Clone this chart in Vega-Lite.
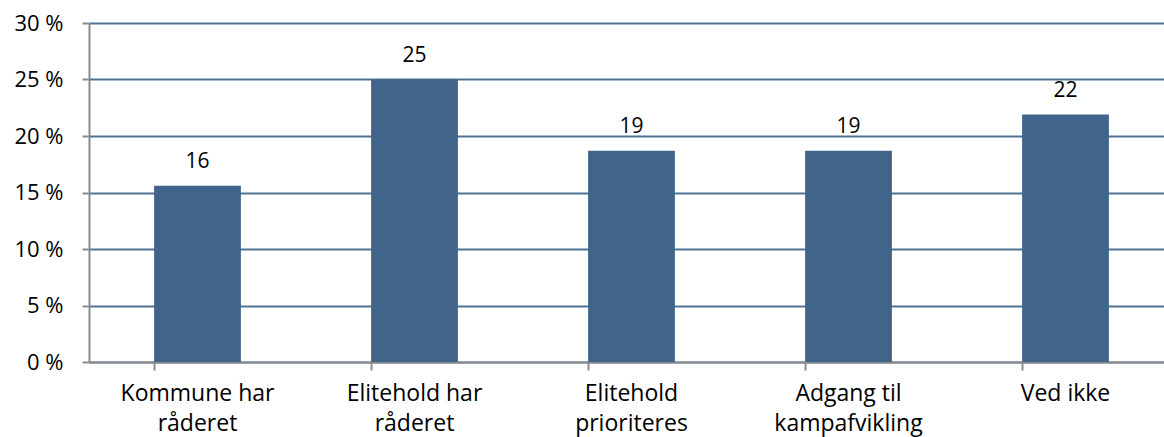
{
  "$schema": "https://vega.github.io/schema/vega-lite/v6.json",
  "autosize": {"type": "none"},
  "width": 1075,
  "height": 339,
  "padding": {"left": 89, "top": 23, "right": 0, "bottom": 75},
  "background": "white",
  "config": {
    "view": {"stroke": null},
    "font": "Open Sans"
  },
  "data": {
    "values": [
      {"category": "Kommune har|råderet", "value": 15.6, "label": 16},
      {"category": "Elitehold har|råderet", "value": 25.0, "label": 25},
      {"category": "Elitehold|prioriteres", "value": 18.7, "label": 19},
      {"category": "Adgang til|kampafvikling", "value": 18.7, "label": 19},
      {"category": "Ved ikke", "value": 21.9, "label": 22}
    ]
  },
  "encoding": {
    "x": {
      "field": "category",
      "type": "nominal",
      "sort": null,
      "scale": {"paddingInner": 0.6, "paddingOuter": 0.3, "range": [0, 1085]},
      "axis": {
        "title": null,
        "labelAngle": 0,
        "labelFontSize": 23,
        "labelColor": "#000000",
        "labelLineHeight": 30,
        "labelPadding": 12,
        "labelExpr": "split(datum.value, '|')",
        "domainColor": "#8c8c8c",
        "domainWidth": 2,
        "tickColor": "#8c8c8c",
        "tickWidth": 2,
        "tickSize": 8,
        "bandPosition": 0,
        "grid": false
      }
    },
    "y": {
      "field": "value",
      "type": "quantitative",
      "scale": {"domain": [0, 30], "nice": false},
      "axis": {
        "title": null,
        "values": [0, 5, 10, 15, 20, 25, 30],
        "labelExpr": "datum.value + ' %'",
        "labelFontSize": 22,
        "labelColor": "#000000",
        "labelPadding": 19,
        "domainColor": "#8c8c8c",
        "domainWidth": 2,
        "tickColor": "#8c8c8c",
        "tickWidth": 2,
        "tickSize": 7,
        "grid": true,
        "gridColor": "#4F7393",
        "gridWidth": 2,
        "zindex": 0
      }
    }
  },
  "layer": [
    {
      "mark": {"type": "bar", "color": "#41658A"}
    },
    {
      "mark": {"type": "text", "fontSize": 21, "color": "#000000", "baseline": "alphabetic", "dy": -18},
      "encoding": {
        "text": {"field": "label", "type": "quantitative"}
      }
    }
  ]
}
